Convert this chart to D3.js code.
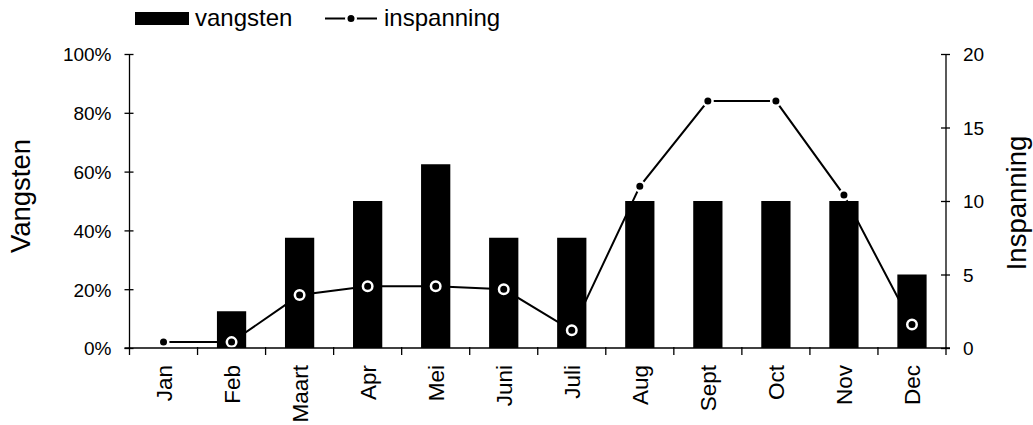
<!DOCTYPE html>
<html>
<head>
<meta charset="utf-8">
<script src="https://cdn.jsdelivr.net/npm/d3@7"></script>
<style>
  html, body { margin: 0; padding: 0; background: #fff; }
  svg { display: block; font-family: "Liberation Sans", Arial, sans-serif; }
</style>
</head>
<body>
<svg id="chart" width="1033" height="425"></svg>
<script>
const months = ["Jan","Feb","Maart","Apr","Mei","Juni","Juli","Aug","Sept","Oct","Nov","Dec"];
const vangsten = [0, 0.125, 0.375, 0.5, 0.625, 0.375, 0.375, 0.5, 0.5, 0.5, 0.5, 0.25];
const inspanning = [0.4, 0.4, 3.6, 4.2, 4.2, 4.0, 1.2, 11.0, 16.8, 16.8, 10.4, 1.6];
const leftTicks = [0, 0.2, 0.4, 0.6, 0.8, 1.0];
const rightTicks = [0, 5, 10, 15, 20];
const seriesNames = ["vangsten", "inspanning"];
const axisTitles = ["Vangsten", "Inspanning"];

(function () {
const svg = d3.select("#chart");
const pL = 129.5, pR = 946, pT = 54, pB = 348;

const x = d3.scaleBand().domain(months).range([pL, pR]);
const yL = d3.scaleLinear().domain([0, 1]).range([pB, pT]);
const yR = d3.scaleLinear().domain([0, 20]).range([pB, pT]);

// bars
const bw = x.bandwidth() * 0.43;
svg.append("g").selectAll("rect").data(vangsten).join("rect")
  .attr("x", (d, i) => x(months[i]) + x.bandwidth() / 2 - bw / 2)
  .attr("y", d => yL(d))
  .attr("width", bw)
  .attr("height", d => pB - yL(d))
  .attr("fill", "#000");

// line
const line = d3.line()
  .x((d, i) => x(months[i]) + x.bandwidth() / 2)
  .y(d => yR(d));
svg.append("path").datum(inspanning)
  .attr("d", line)
  .attr("fill", "none")
  .attr("stroke", "#000")
  .attr("stroke-width", 2);
svg.append("g").selectAll("circle").data(inspanning).join("circle")
  .attr("cx", (d, i) => x(months[i]) + x.bandwidth() / 2)
  .attr("cy", d => yR(d))
  .attr("r", 4.75)
  .attr("fill", "#000")
  .attr("stroke", "#fff")
  .attr("stroke-width", 2.5);

// left axis
const gL = svg.append("g").attr("transform", `translate(${pL},0)`)
  .call(d3.axisLeft(yL).tickValues(leftTicks).tickFormat(d3.format(".0%")).tickSize(5).tickPadding(13));
gL.select(".domain").attr("d", `M0,${pT}V${pB}`).attr("stroke", "#000").attr("stroke-width", 1.3);
gL.selectAll(".tick line").attr("x1", 4).attr("x2", -5).attr("stroke", "#000").attr("stroke-width", 1.3);
gL.selectAll(".tick text").attr("font-size", 19).attr("fill", "#000").attr("x", -18).attr("dy", "0.36em")
  .attr("font-family", "Liberation Sans, Arial, sans-serif");

// right axis
const gR = svg.append("g").attr("transform", `translate(${pR},0)`)
  .call(d3.axisRight(yR).tickValues(rightTicks).tickSize(5));
gR.select(".domain").attr("d", `M0,${pT}V${pB}`).attr("stroke", "#000").attr("stroke-width", 1.3);
gR.selectAll(".tick line").attr("x1", -5).attr("x2", 4).attr("stroke", "#000").attr("stroke-width", 1.3);
gR.selectAll(".tick text").attr("font-size", 19).attr("fill", "#000").attr("x", 17).attr("dy", "0.36em")
  .attr("font-family", "Liberation Sans, Arial, sans-serif");

// bottom axis
const gB = svg.append("g").attr("transform", `translate(0,${pB})`);
gB.append("line").attr("x1", pL - 5).attr("x2", pR + 4).attr("y1", 0).attr("y2", 0)
  .attr("stroke", "#000").attr("stroke-width", 1.3);
const bounds = months.map(m => x(m)).concat([pR]);
gB.selectAll("line.tk").data(bounds).join("line").attr("class", "tk")
  .attr("x1", d => d).attr("x2", d => d).attr("y1", -1).attr("y2", 7)
  .attr("stroke", "#000").attr("stroke-width", 1.3);
gB.selectAll("text").data(months).join("text")
  .attr("transform", d => `translate(${x(d) + x.bandwidth() / 2},17) rotate(-90)`)
  .attr("text-anchor", "end")
  .attr("dy", "0.36em")
  .attr("font-size", 22.5)
  .text(d => d);

// axis titles
svg.append("text")
  .attr("transform", `translate(30,196) rotate(-90)`)
  .attr("text-anchor", "middle")
  .attr("font-size", 27.5)
  .text(axisTitles[0]);
svg.append("text")
  .attr("transform", `translate(1026,203) rotate(-90)`)
  .attr("text-anchor", "middle")
  .attr("font-size", 27.5)
  .text(axisTitles[1]);

// legend
const lg = svg.append("g");
lg.append("rect").attr("x", 135).attr("y", 12).attr("width", 54).attr("height", 13).attr("fill", "#000");
lg.append("text").attr("x", 195).attr("y", 26).attr("font-size", 24).text(seriesNames[0]);
lg.append("line").attr("x1", 325).attr("x2", 377).attr("y1", 18.5).attr("y2", 18.5)
  .attr("stroke", "#000").attr("stroke-width", 2);
lg.append("circle").attr("cx", 351).attr("cy", 18.5).attr("r", 4.75)
  .attr("fill", "#000").attr("stroke", "#fff").attr("stroke-width", 2.5);
lg.append("text").attr("x", 384).attr("y", 26).attr("font-size", 24).text(seriesNames[1]);
})();
</script>
</body>
</html>
